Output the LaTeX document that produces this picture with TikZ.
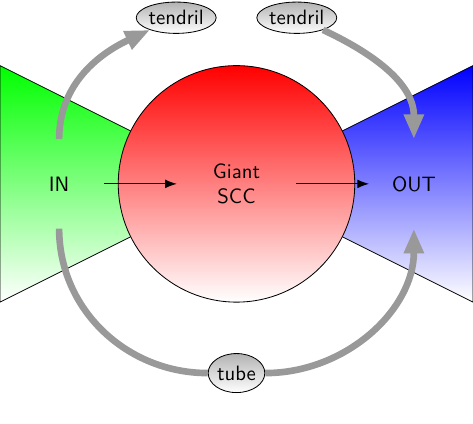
\documentclass[tikz,border=0pt]{standalone}
\usepackage{tikz}
\usetikzlibrary{positioning,arrows.meta,shapes.geometric}
\tikzset{
	part/.style={draw=black, thin},
	label node/.style={font=\sffamily, align=center},
	end node/.style={label node, minimum size=1.5cm, inner sep=0pt}, % the size sets where the arrows start
	side node/.style={ellipse, draw=black, thin, top color=gray!60, bottom color=white, font=\sffamily, inner sep=0.3pt},
	flow/.style={-Latex, black, semithick},
	bypass line/.style={line width=3.2pt, gray!80},
	bypass/.style={bypass line, -{Triangle[length=0.42cm, width=0.32cm]}}
}

\begin{document}
\begin{tikzpicture}
            \useasboundingbox (-4,-4.06) rectangle (4,3.11);
            \shade[part, top color=green, bottom color=white] (-4,2) -- (0,0) -- (-4,-2) -- cycle;
            \shade[part, top color=blue, bottom color=white] (4,2) -- (0,0) -- (4,-2) -- cycle;
            \node[circle, part, top color=red, bottom color=white, minimum size=4cm] (core) at (0,0) {};
            \node[label node, minimum width=2cm] (scc) at (0,0) {Giant\\SCC};
            \node[end node] (in) at (-3,0) {IN};
            \node[end node] (out) at (3,0) {OUT};
            \node[side node, minimum width=1.34cm, minimum height=0.53cm] (tl) at (-1.02,2.81) {tendril};
            \node[side node, minimum width=1.34cm, minimum height=0.53cm] (tr) at (1.02,2.81) {tendril};
            \node[side node, minimum width=0.93cm, minimum height=0.66cm] (tube) at (0,-3.2) {tube};
            \draw[flow] (in) -- (scc);
            \draw[flow] (scc) -- (out);
            \draw[bypass] (in.north) to[out=90, in=205] (tl);
            \draw[bypass] (tr) to[out=-25, in=90] (out.north);
            \draw[bypass line] (in.south) to[out=-90, in=180] (tube);
            \draw[bypass] (tube) to[out=0, in=-90] (out.south);
\end{tikzpicture}
\end{document}
